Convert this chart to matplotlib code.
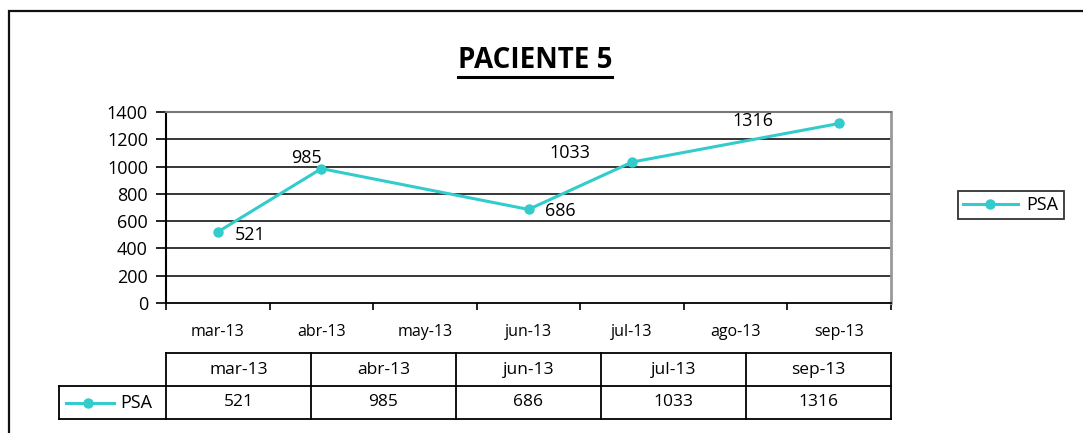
import matplotlib.pyplot as plt
from matplotlib.lines import Line2D
from matplotlib.patches import Rectangle

# =========================
# 資料
# =========================
MONTHS = ["mar-13", "abr-13", "may-13", "jun-13", "jul-13", "ago-13", "sep-13"]
PSA_DATES = ["mar-13", "abr-13", "jun-13", "jul-13", "sep-13"]
PSA_VALUES = [521, 985, 686, 1033, 1316]
Y_TICKS = [0, 200, 400, 600, 800, 1000, 1200, 1400]
TITLE = "PACIENTE 5"
SERIES_NAME = "PSA"

# data label offsets (points), Excel-like placement
LABEL_POS = [
    ((12, -2), "left"),
    ((-11, 8), "center"),
    ((12, -1), "left"),
    ((-45, 6.5), "center"),
    ((-62, 1.5), "center"),
]

W, H = 1083, 433
LINE_COLOR = "#33CCCC"
plt.rcParams["font.family"] = ["Open Sans", "DejaVu Sans"]


def px_box(x0, y0, x1, y1):
    """pixel box (top-left origin) -> figure fraction [l, b, w, h]"""
    return [x0 / W, 1 - y1 / H, (x1 - x0) / W, (y1 - y0) / H]


fig = plt.figure(figsize=(W / 100, H / 100), dpi=100)

# outer chart border (right/bottom fall outside the picture)
fig.patches.append(Rectangle((9 / W, -0.1), 1.2, 1 - 11 / H + 0.1,
                             transform=fig.transFigure, fill=False,
                             edgecolor="#111111", linewidth=1.6))

title = fig.text(535 / W, 1 - 61 / H, TITLE, ha="center", va="center",
                 fontsize=20, fontweight="bold")

# ---- main plot ----
ax = fig.add_axes(px_box(166, 112, 891, 303))
xs = [MONTHS.index(d) + 0.5 for d in PSA_DATES]
ax.plot(xs, PSA_VALUES, color=LINE_COLOR, linewidth=2.2, marker="o",
        markersize=6.5, label=SERIES_NAME, zorder=3)

for x, v, (off, ha) in zip(xs, PSA_VALUES, LABEL_POS):
    ax.annotate(str(v), (x, v), xytext=off, textcoords="offset points",
                ha=ha, va="center", fontsize=13)

ax.set_xlim(0, len(MONTHS))
ax.set_ylim(0, 1400)
ax.set_yticks(Y_TICKS)
ax.set_yticklabels([str(t) for t in Y_TICKS], fontsize=13)
for t in Y_TICKS[1:-1]:
    ax.axhline(t, color="black", linewidth=1.1, zorder=1)

ax.set_xticks(range(len(MONTHS) + 1))
ax.set_xticklabels([])
ax.set_xticks([i + 0.5 for i in range(len(MONTHS))], minor=True)
ax.set_xticklabels(MONTHS, minor=True, fontsize=11.5)
ax.tick_params(axis="x", which="minor", length=0, pad=15)
ax.tick_params(axis="x", which="major", length=5, width=1.2, direction="out")
ax.tick_params(axis="y", length=7, width=1.2, direction="out", pad=6)

ax.spines["left"].set_linewidth(1.5)
ax.spines["bottom"].set_linewidth(1.3)
ax.spines["top"].set_color("#777777")
ax.spines["top"].set_linewidth(1.5)
ax.spines["right"].set_color("#999999")
ax.spines["right"].set_linewidth(2)

leg = ax.legend(loc="center", bbox_to_anchor=(1011 / W, 1 - 205 / H),
                bbox_transform=fig.transFigure, frameon=True, fancybox=False,
                edgecolor="black", fontsize=13, handlelength=3.0,
                borderpad=0.3, handletextpad=0.5, borderaxespad=0)
leg.get_frame().set_linewidth(1.3)

# ---- data table ----
tab = fig.add_axes(px_box(59, 353, 891, 419))
lab_w = 107 / 145
n = len(PSA_DATES)
tab.set_xlim(-lab_w, n)
tab.set_ylim(0, 2)
tab.axis("off")
kw = dict(color="black", linewidth=1.3, clip_on=False)
tab.plot([0, n], [2, 2], **kw)
tab.plot([-lab_w, n], [1, 1], **kw)
tab.plot([-lab_w, n], [0, 0], **kw)
tab.plot([-lab_w, -lab_w], [0, 1], **kw)
for i in range(n + 1):
    tab.plot([i, i], [0, 2], **kw)
for i, (d, v) in enumerate(zip(PSA_DATES, PSA_VALUES)):
    tab.text(i + 0.5, 1.5, d, ha="center", va="center", fontsize=12.5)
    tab.text(i + 0.5, 0.5, str(v), ha="center", va="center", fontsize=12.5)
tab.plot([-lab_w + 0.05, -lab_w + 0.38], [0.5, 0.5], color=LINE_COLOR,
         linewidth=2.2, clip_on=False)
tab.plot([-lab_w + 0.2], [0.5], marker="o", color=LINE_COLOR,
         markersize=6.5, clip_on=False)
tab.text(-lab_w + 0.42, 0.5, SERIES_NAME, ha="left", va="center", fontsize=13)

# underline the title under its rendered extent
fig.canvas.draw()
bb = title.get_window_extent().transformed(fig.transFigure.inverted())
fig.add_artist(Line2D([bb.x0, bb.x1], [bb.y0 - 1 / H, bb.y0 - 1 / H],
                      color="black", linewidth=2.2))

fig.savefig("out.png", dpi=100)
